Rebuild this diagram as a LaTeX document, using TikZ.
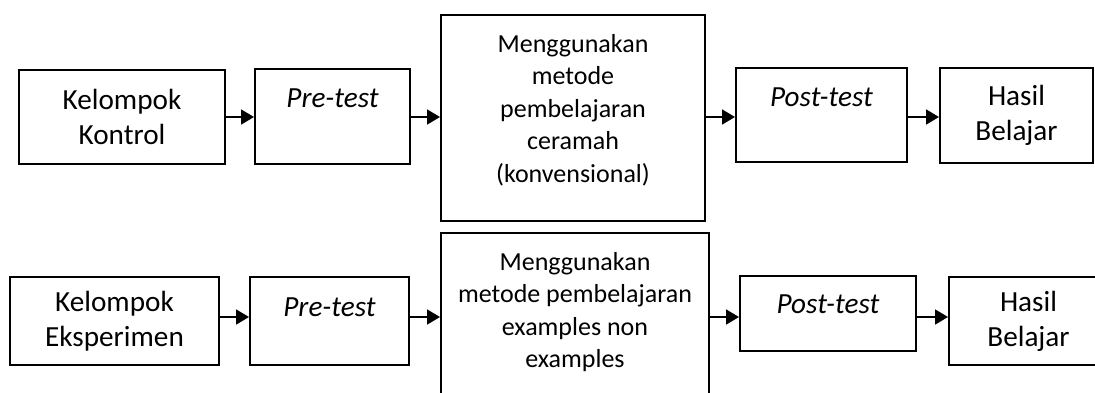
\documentclass[tikz,border=0pt]{standalone}
\usepackage{fontspec}
\setmainfont{Carlito}
\usetikzlibrary{arrows.meta}
\begin{document}
\begin{tikzpicture}[x=0.5pt,y=-0.5pt,
  box/.style={draw, line width=1pt, inner sep=0pt, align=center,
    font=\fontsize{14.6}{17.5}\selectfont},
  lbl/.style={inner sep=0pt, align=center, font=\fontsize{14.6}{17.5}\selectfont},
  method/.style={inner sep=0pt, align=center, font=\fontsize{13}{16.3}\selectfont},
  flow/.style={line width=0.9pt, -{Triangle[length=6.5pt,width=7.5pt]}}]
\useasboundingbox (0,0) rectangle (1095,392);

% control group
\node[box, minimum width=103pt, minimum height=47pt] (kk) at (122,117) {Kelompok\\Kontrol};
\node[box, minimum width=77.5pt, minimum height=47.5pt,
  label={[lbl,anchor=base,yshift=-19.5pt]north:\itshape Pre-test}] (pre1) at (332.5,116.5) {};
\node[box, minimum width=132pt, minimum height=103pt,
  label={[method,yshift=4pt]center:Menggunakan\\metode\\pembelajaran\\ceramah\\(konvensional)}] (m1) at (573,118) {};
\node[box, minimum width=85.5pt, minimum height=47pt,
  label={[lbl,anchor=base,yshift=-19.5pt]north:\itshape Post-test}] (post1) at (821.5,115) {};
\node[box, minimum width=76.5pt, minimum height=47.5pt] (hb1) at (1016.5,115.5) {Hasil\\Belajar};

\coordinate (r1) at (0,117);
\draw[flow] (kk.east|-r1) -- (pre1.west|-r1);
\draw[flow] (pre1.east|-r1) -- (m1.west|-r1);
\draw[flow] (m1.east|-r1) -- (post1.west|-r1);
\draw[flow] (post1.east|-r1) -- (hb1.west|-r1);

% experimental group
\node[box, minimum width=104.5pt, minimum height=44pt] (ke) at (114.5,321) {Kelompok\\Eksperimen};
\node[box, minimum width=79.5pt, minimum height=44pt,
  label={[lbl,anchor=base,yshift=-20pt]north:\itshape Pre-test}] (pre2) at (329.5,321) {};
\node[box, minimum width=134pt, minimum height=83.5pt,
  label={[method,yshift=2.25pt]center:Menggunakan\\metode pembelajaran\\examples non\\examples}] (m2) at (575,316.5) {};
\node[box, minimum width=88pt, minimum height=37.5pt,
  label={[lbl,anchor=base,yshift=-19pt]north:\itshape Post-test}] (post2) at (828,313.5) {};
\node[box, minimum width=79.5pt, minimum height=44pt] (hb2) at (1028.5,321) {Hasil\\Belajar};

\coordinate (r2) at (0,317);
\draw[flow] (ke.east|-r2) -- (pre2.west|-r2);
\draw[flow] (pre2.east|-r2) -- (m2.west|-r2);
\draw[flow] (m2.east|-r2) -- (post2.west|-r2);
\draw[flow] (post2.east|-r2) -- (hb2.west|-r2);
\end{tikzpicture}
\end{document}
